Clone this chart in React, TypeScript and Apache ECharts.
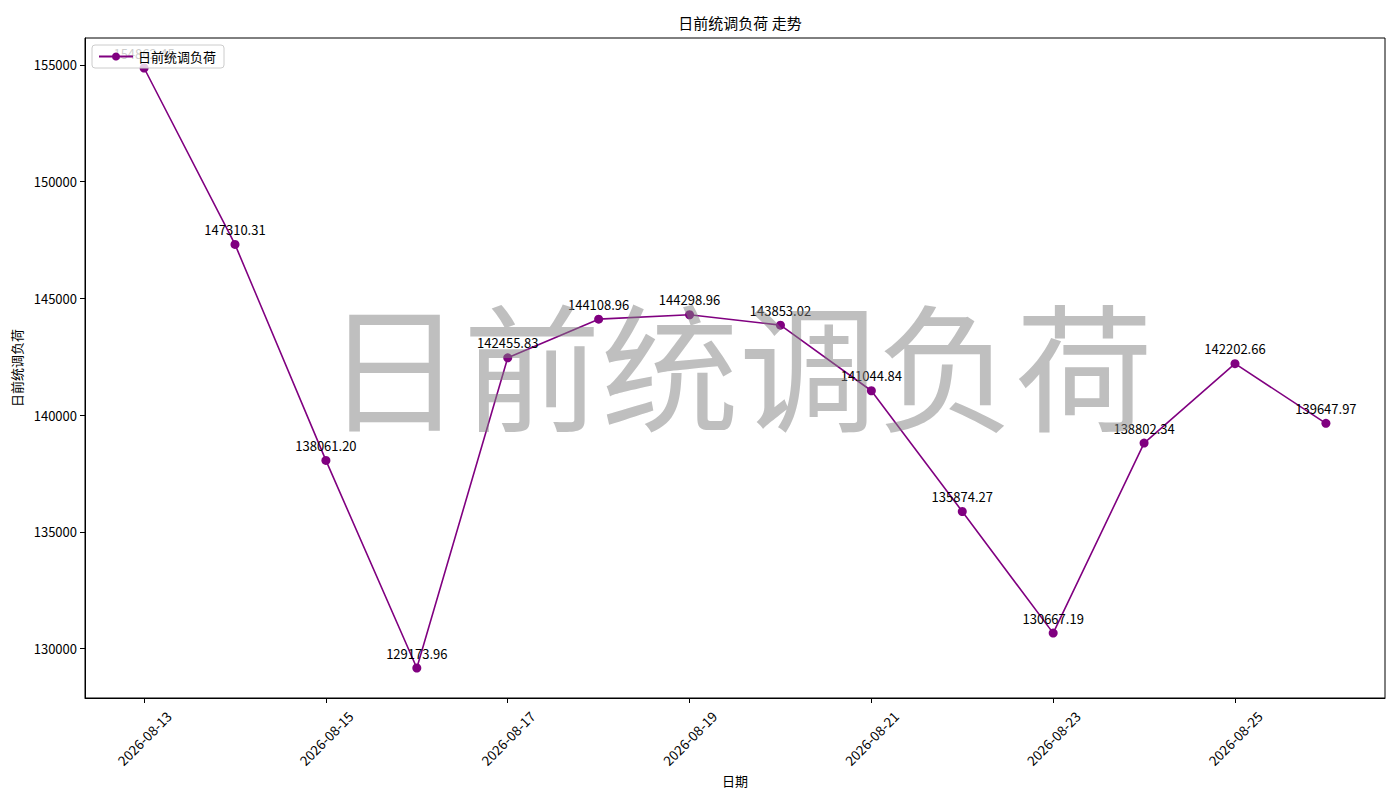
import React, { useEffect, useRef } from 'react';
import * as echarts from 'echarts';

// daily day-ahead dispatch load
const dates = [
  '2026-08-13', '2026-08-14', '2026-08-15', '2026-08-16', '2026-08-17',
  '2026-08-18', '2026-08-19', '2026-08-20', '2026-08-21', '2026-08-22',
  '2026-08-23', '2026-08-24', '2026-08-25', '2026-08-26'
];
const loads = [
  154862.45, 147310.31, 138061.2, 129173.96, 142455.83,
  144108.96, 144298.96, 143853.02, 141044.84, 135874.27,
  130667.19, 138802.34, 142202.66, 139647.97
];
const xTickIdx = [0, 2, 4, 6, 8, 10, 12];
const yTicks = [130000, 135000, 140000, 145000, 150000, 155000];

const FONT = '"Noto Sans CJK SC", "DejaVu Sans", sans-serif';
const LINE_COLOR = '#800080';

const App: React.FC = () => {
  const chartRef = useRef<HTMLDivElement>(null);

  useEffect(() => {
    if (!chartRef.current) return;
    const chart = echarts.init(chartRef.current, undefined, { renderer: 'svg' });

    // matplotlib-like 5% margins
    const lo = Math.min(...loads);
    const hi = Math.max(...loads);
    const pad = (hi - lo) * 0.05;
    const xPad = (dates.length - 1) * 0.05;

    const option: echarts.EChartsOption = {
      animation: false,
      textStyle: { fontFamily: FONT },
      title: {
        text: '日前统调负荷 走势',
        left: 735,
        top: 10,
        textAlign: 'center',
        textStyle: { fontSize: 15, fontWeight: 'normal', color: '#000', fontFamily: FONT }
      },
      grid: {
        left: 85,
        right: 15,
        top: 38,
        bottom: 102,
        show: true,
        borderColor: '#000',
        borderWidth: 1
      },
      legend: {
        left: 92,
        top: 45,
        data: ['日前统调负荷'],
        itemWidth: 34,
        itemHeight: 10,
        itemGap: 4,
        padding: [5, 8, 5, 6],
        backgroundColor: 'rgba(255,255,255,0.8)',
        borderColor: '#ccc',
        borderWidth: 1,
        borderRadius: 3,
        textStyle: { fontSize: 13, color: '#000', fontFamily: FONT }
      },
      xAxis: {
        type: 'value',
        min: -xPad,
        max: dates.length - 1 + xPad,
        name: '日期',
        nameLocation: 'middle',
        nameGap: 75,
        nameTextStyle: { fontSize: 13, color: '#000' },
        splitLine: { show: false },
        axisLine: { show: true, onZero: false, lineStyle: { color: '#000' } },
        axisTick: {
          show: true,
          length: 5,
          lineStyle: { color: '#000' },
          customValues: xTickIdx
        },
        axisLabel: {
          customValues: xTickIdx,
          rotate: 45,
          align: 'center',
          verticalAlign: 'middle',
          margin: 40,
          fontSize: 13.5,
          color: '#000',
          formatter: (v: number) => dates[Math.round(v)] ?? ''
        }
      },
      yAxis: {
        type: 'value',
        min: lo - pad,
        max: hi + pad,
        name: '日前统调负荷',
        nameLocation: 'middle',
        nameGap: 57,
        nameTextStyle: { fontSize: 13, color: '#000' },
        splitLine: { show: false },
        axisLine: { show: true, onZero: false, lineStyle: { color: '#000' } },
        axisTick: {
          show: true,
          length: 5,
          lineStyle: { color: '#000' },
          customValues: yTicks
        },
        axisLabel: {
          customValues: yTicks,
          fontSize: 13,
          color: '#000',
          margin: 8,
          formatter: (v: number) => String(v)
        }
      },
      series: [
        {
          name: '日前统调负荷',
          type: 'line',
          data: loads.map((v, i) => [i, v]),
          symbol: 'circle',
          symbolSize: 9,
          itemStyle: { color: LINE_COLOR },
          lineStyle: { color: LINE_COLOR, width: 1.6 },
          label: {
            show: true,
            position: 'top',
            distance: 4,
            fontSize: 13,
            color: '#000',
            formatter: (p: any) => Number(p.value[1]).toFixed(2)
          }
        }
      ],
      graphic: [
        {
          type: 'text',
          x: 739,
          y: 361,
          z: 100,
          silent: true,
          style: {
            text: '日前统调负荷',
            x: 0,
            y: 0,
            fontSize: 138,
            fontFamily: FONT,
            fill: 'rgba(128,128,128,0.5)',
            align: 'center',
            verticalAlign: 'middle'
          }
        } as any
      ]
    };

    chart.setOption(option);
    return () => chart.dispose();
  }, []);

  return (
    <div
      ref={chartRef}
      style={{ position: 'absolute', left: 0, top: 0, width: '1400px', height: '800px', background: '#fff' }}
    />
  );
};

export default App;
